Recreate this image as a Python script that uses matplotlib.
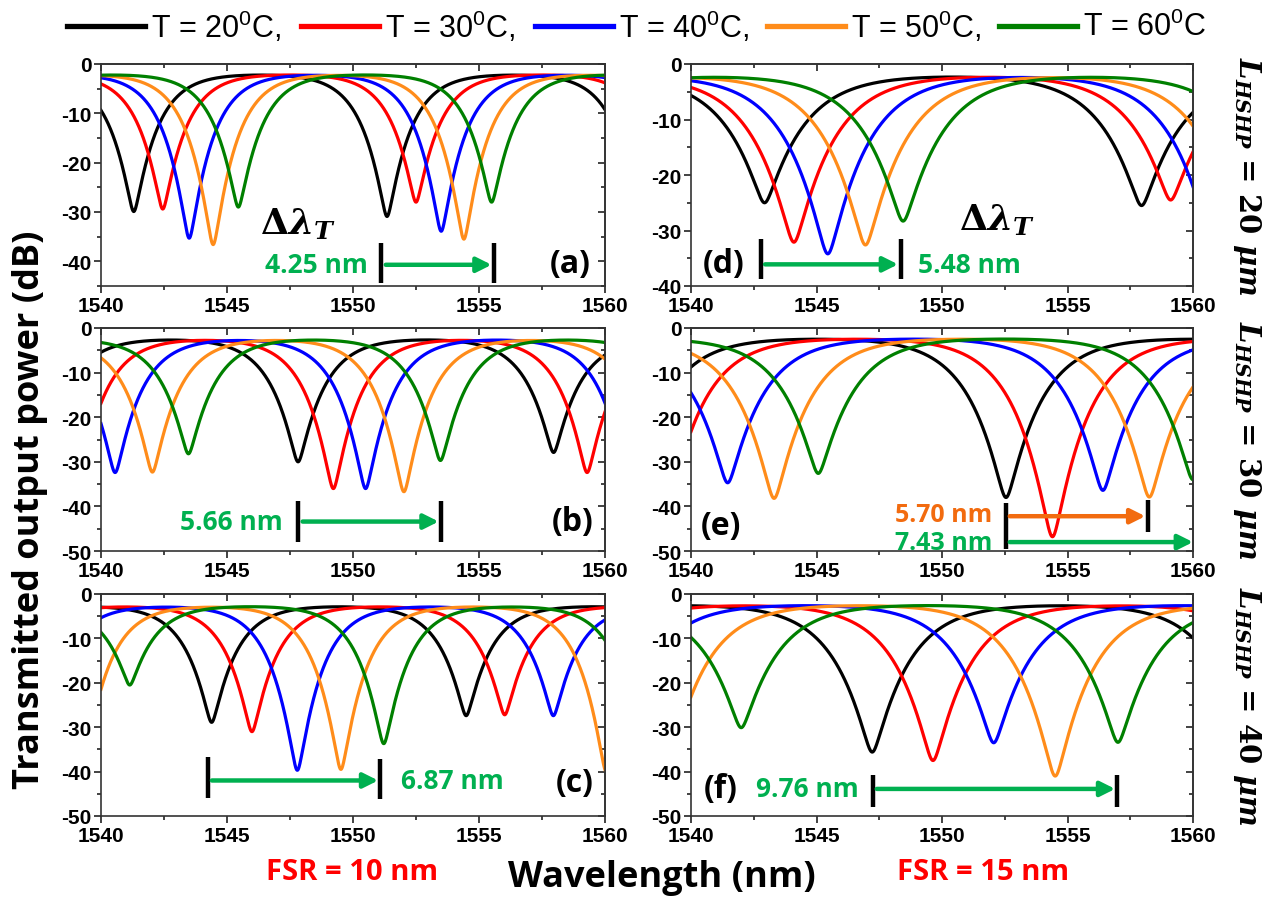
import numpy as np
import matplotlib
matplotlib.use("Agg")
import matplotlib.pyplot as plt
from matplotlib.lines import Line2D
from matplotlib.ticker import MultipleLocator, NullFormatter

plt.rcParams['axes.unicode_minus'] = False

# ---------------- data ----------------
temperatures = ['20', '30', '40', '50', '60']
curve_colors = ['#000000', '#FF0000', '#0000FF', '#FF8C1A', '#008000']

# resonance dip centres (nm) and dip minima (dB) for each temperature
# (off-screen neighbours included so the curves run to the frame edges)
a_centers = [[1531.3, 1541.3, 1551.35, 1561.35],
             [1532.45, 1542.45, 1552.5, 1562.5],
             [1533.5, 1543.5, 1553.5, 1563.5],
             [1534.4, 1544.45, 1554.4, 1564.4],
             [1535.45, 1545.45, 1555.5, 1565.5]]
a_depths = [[-30, -29.9, -30.9, -31],
            [-29, -29.4, -28.0, -28],
            [-35, -35.3, -33.9, -34],
            [-36, -36.6, -35.5, -35],
            [-29, -29.0, -28.0, -28]]

b_centers = [[1537.7, 1547.82, 1557.96, 1568.1],
             [1539.11, 1549.22, 1559.29, 1569.3],
             [1530.6, 1540.56, 1550.5, 1560.86],
             [1532.0, 1542.04, 1552.02, 1562.0],
             [1533.47, 1543.47, 1553.47, 1563.5]]
b_depths = [[-30, -30.0, -27.9, -28],
            [-34, -36.0, -32.4, -32],
            [-32, -32.4, -36.0, -33],
            [-32, -32.3, -36.7, -33],
            [-28, -28.2, -29.7, -29]]

c_centers = [[1534.3, 1544.39, 1554.49, 1564.6],
             [1535.9, 1545.99, 1556.02, 1566.0],
             [1537.7, 1547.79, 1557.95, 1568.0],
             [1539.27, 1549.52, 1560.05],
             [1531.1, 1541.14, 1551.22, 1561.3]]
c_depths = [[-29, -28.9, -27.4, -27],
            [-31, -31.0, -27.2, -27],
            [-30, -39.7, -27.4, -27],
            [-39, -39.5, -40],
            [-20, -20.5, -33.7, -30]]

d_centers = [[1527.9, 1542.93, 1557.95, 1573.0],
             [1529.1, 1544.1, 1559.11, 1574.1],
             [1530.45, 1545.45, 1560.86],
             [1531.95, 1546.95, 1561.95],
             [1533.45, 1548.45, 1563.45]]
d_depths = [[-25, -25.0, -25.5, -25],
            [-32, -32.1, -24.5, -24],
            [-34, -34.2, -34],
            [-32, -32.6, -32],
            [-28, -28.3, -28]]

e_centers = [[1537.55, 1552.55, 1567.55],
             [1539.06, 1554.4, 1569.4],
             [1526.5, 1541.46, 1556.41, 1571.4],
             [1528.3, 1543.31, 1558.26, 1573.2],
             [1530.1, 1545.07, 1560.0, 1575.0]]
e_depths = [[-38, -38.0, -38],
            [-40, -46.8, -40],
            [-35, -34.7, -36.4, -35],
            [-38, -38.2, -37.9, -38],
            [-32, -32.6, -34.0, -34]]

f_centers = [[1532.2, 1547.22, 1562.2],
             [1534.6, 1549.64, 1564.6],
             [1537.06, 1552.06, 1567.06],
             [1538.98, 1554.51, 1569.5],
             [1527.0, 1542.0, 1557.01, 1572.0]]
f_depths = [[-35, -35.6, -35],
            [-37, -37.5, -37],
            [-33, -33.5, -33],
            [-41, -41.0, -41],
            [-30, -30.1, -33.4, -33]]

panel_top_db = {'a': -2.0, 'b': -2.3, 'c': -2.6, 'd': -2.0, 'e': -2.2, 'f': -2.3}
panel_ymin = {'a': -45, 'b': -50, 'c': -50, 'd': -40, 'e': -50, 'f': -50}
panel_dip_width = {'a': 0.9, 'b': 1.0, 'c': 0.95, 'd': 1.5, 'e': 1.35, 'f': 1.4}

W, H = 1274, 903
fig = plt.figure(figsize=(W / 100, H / 100), dpi=100)

TICKFONT = dict(family='Liberation Sans', weight='bold', size=15)
LABFONT = dict(family='Open Sans', weight='bold')
GREEN_TXT = '#00B050'
ORANGE_TXT = '#F26B0F'


def dip_curve(wl, centers, depths, top, w):
    # sum (in dB) of exponential-profile dips with a slightly rounded tip
    eps = 0.12 * w
    out = np.full_like(wl, top)
    for c, d in zip(centers, depths):
        r = np.sqrt((wl - c) ** 2 + eps ** 2) - eps
        out -= (top - d) * np.exp(-r / w)
    return out


def make_axes(x0, y0, x1, y1):
    return fig.add_axes([x0 / W, 1 - y1 / H, (x1 - x0) / W, (y1 - y0) / H])


def style(ax, ymin):
    ax.set_xlim(1540, 1560)
    ax.set_ylim(ymin, 0)
    ax.xaxis.set_major_locator(MultipleLocator(5))
    ax.xaxis.set_minor_locator(MultipleLocator(2.5))
    ax.yaxis.set_major_locator(MultipleLocator(10))
    ax.yaxis.set_minor_locator(MultipleLocator(5))
    ax.tick_params(which='both', direction='out', width=1.2, color='#222222', pad=2)
    ax.tick_params(which='major', length=5)
    ax.tick_params(which='minor', length=3)
    for lab in ax.get_xticklabels() + ax.get_yticklabels():
        lab.set_fontfamily(TICKFONT['family'])
        lab.set_fontweight(TICKFONT['weight'])
        lab.set_fontsize(TICKFONT['size'])
    for sp in ax.spines.values():
        sp.set_linewidth(1.2)
        sp.set_color('#333333')
    sx = ax.secondary_xaxis('top')
    sx.xaxis.set_major_locator(MultipleLocator(5))
    sx.xaxis.set_minor_locator(MultipleLocator(2.5))
    sx.xaxis.set_major_formatter(NullFormatter())
    sx.tick_params(which='both', direction='in', width=1.2, color='#222222')
    sx.tick_params(which='major', length=5)
    sx.tick_params(which='minor', length=3)
    sy = ax.secondary_yaxis('right')
    sy.yaxis.set_major_locator(MultipleLocator(10))
    sy.yaxis.set_minor_locator(MultipleLocator(5))
    sy.yaxis.set_major_formatter(NullFormatter())
    sy.tick_params(which='both', direction='in', width=1.2, color='#222222')
    sy.tick_params(which='major', length=5)
    sy.tick_params(which='minor', length=3)
    for s in (sx, sy):
        for sp in s.spines.values():
            sp.set_linewidth(1.2)
            sp.set_color('#333333')


def arrow(ax, x0, x1, y, color):
    ax.annotate('', xy=(x1, y), xytext=(x0, y),
                arrowprops=dict(arrowstyle='-|>', color=color, lw=3.2,
                                mutation_scale=22, shrinkA=0, shrinkB=0),
                annotation_clip=False)


def bar(ax, x, y0, y1):
    ax.plot([x, x], [y0, y1], color='k', lw=3.2, solid_capstyle='butt', clip_on=False)


def label(ax, x, y, s, color, ha, size=19):
    ax.text(x, y, s, color=color, ha=ha, va='center', fontsize=size, **LABFONT)


def delta_lambda(ax, x, y):
    ax.text(x, y, r'$\mathbf{\Delta}\mathbfit{\lambda}_{\mathbfit{T}}$', fontsize=26,
            ha='center', va='center', math_fontfamily='dejavuserif')


wl = np.linspace(1540, 1560, 4001)

layout = {'a': (101, 65, 605, 287), 'b': (101, 329, 605, 552), 'c': (101, 595, 605, 817),
          'd': (691, 65, 1193, 287), 'e': (691, 329, 1193, 552), 'f': (691, 595, 1193, 817)}
data = {'a': (a_centers, a_depths), 'b': (b_centers, b_depths), 'c': (c_centers, c_depths),
        'd': (d_centers, d_depths), 'e': (e_centers, e_depths), 'f': (f_centers, f_depths)}

axes = {}
for key, box in layout.items():
    ax = make_axes(*box)
    axes[key] = ax
    cents, deps = data[key]
    for cc, dd, col in zip(cents, deps, curve_colors):
        ax.plot(wl, dip_curve(wl, cc, dd, panel_top_db[key], panel_dip_width[key]),
                color=col, lw=2.3)
    style(ax, panel_ymin[key])

# ---- annotations ----
ax = axes['a']
delta_lambda(ax, 1547.8, -32.3)
bar(ax, 1551.12, -36.3, -44.4); bar(ax, 1555.61, -36.3, -44.4)
arrow(ax, 1551.3, 1555.5, -40.7, GREEN_TXT)
label(ax, 1550.6, -40.7, '4.25 nm', GREEN_TXT, 'right')
ax.text(1558.6, -40.5, '(a)', fontsize=23, ha='center', va='center', **LABFONT)

ax = axes['b']
bar(ax, 1547.82, -38.8, -47.9); bar(ax, 1553.5, -38.8, -47.9)
arrow(ax, 1548.0, 1553.4, -43.4, GREEN_TXT)
label(ax, 1547.2, -43.4, '5.66 nm', GREEN_TXT, 'right')
ax.text(1558.7, -43.4, '(b)', fontsize=23, ha='center', va='center', **LABFONT)

ax = axes['c']
bar(ax, 1544.24, -36.7, -46.0); bar(ax, 1551.07, -37.1, -46.1)
arrow(ax, 1544.4, 1551.0, -42.0, GREEN_TXT)
label(ax, 1551.9, -42.0, '6.87 nm', GREEN_TXT, 'left')
ax.text(1558.8, -42.5, '(c)', fontsize=23, ha='center', va='center', **LABFONT)

ax = axes['d']
delta_lambda(ax, 1552.2, -28.0)
bar(ax, 1542.79, -31.5, -38.8); bar(ax, 1548.35, -31.5, -38.8)
arrow(ax, 1542.95, 1548.25, -36.1, GREEN_TXT)
label(ax, 1549.05, -36.1, '5.48 nm', GREEN_TXT, 'left')
ax.text(1541.3, -36.0, '(d)', fontsize=23, ha='center', va='center', **LABFONT)

ax = axes['e']
bar(ax, 1552.55, -39.2, -49.5); bar(ax, 1558.2, -38.6, -45.7)
arrow(ax, 1552.7, 1558.1, -42.2, ORANGE_TXT)
arrow(ax, 1552.7, 1560.0, -48.0, GREEN_TXT)
label(ax, 1552.0, -41.8, '5.70 nm', ORANGE_TXT, 'right', size=18)
label(ax, 1552.0, -48.0, '7.43 nm', GREEN_TXT, 'right', size=18)
ax.text(1541.2, -44.2, '(e)', fontsize=23, ha='center', va='center', **LABFONT)

ax = axes['f']
bar(ax, 1547.26, -40.7, -48.0); bar(ax, 1556.98, -40.7, -48.0)
arrow(ax, 1547.4, 1556.9, -43.9, GREEN_TXT)
label(ax, 1546.7, -43.9, '9.76 nm', GREEN_TXT, 'right')
ax.text(1541.2, -43.9, '(f)', fontsize=23, ha='center', va='center', **LABFONT)

# ---- legend (top row) ----
legend_x = [67, 301, 535, 767, 999]
for x0, t, col in zip(legend_x, temperatures, curve_colors):
    fig.add_artist(Line2D([x0 / W, (x0 + 78) / W], [1 - 27 / H, 1 - 27 / H],
                          color=col, lw=3.8, transform=fig.transFigure))
    sep = ',' if t != temperatures[-1] else ''
    fig.text((x0 + 84) / W, 1 - 27 / H, 'T = ' + t + r'$^{\mathregular{0}}$C' + sep,
             fontsize=22, family='Liberation Sans', ha='left', va='center')

# ---- axis titles ----
fig.text(30 / W, 1 - 510 / H, 'Transmitted output power (dB)', rotation=90,
         fontsize=26, ha='center', va='center', **LABFONT)
fig.text(662 / W, 1 - 878 / H, 'Wavelength (nm)', fontsize=26,
         ha='center', va='center', **LABFONT)
fig.text(352 / W, 1 - 873 / H, 'FSR = 10 nm', fontsize=21, color='#FF0000',
         ha='center', va='center', **LABFONT)
fig.text(983 / W, 1 - 873 / H, 'FSR = 15 nm', fontsize=21, color='#FF0000',
         ha='center', va='center', **LABFONT)

for yc, val in zip([176, 440, 706], ['20', '30', '40']):
    fig.text(1247 / W, 1 - yc / H,
             r'$\mathbfit{L}_{\mathbfit{HSHP}}$' + ' = ' + val + r' $\mathbfit{\mu m}$',
             rotation=-90, fontsize=21, family='DejaVu Serif', weight='bold',
             ha='center', va='center', math_fontfamily='dejavuserif')

fig.savefig('out.png', dpi=100)
